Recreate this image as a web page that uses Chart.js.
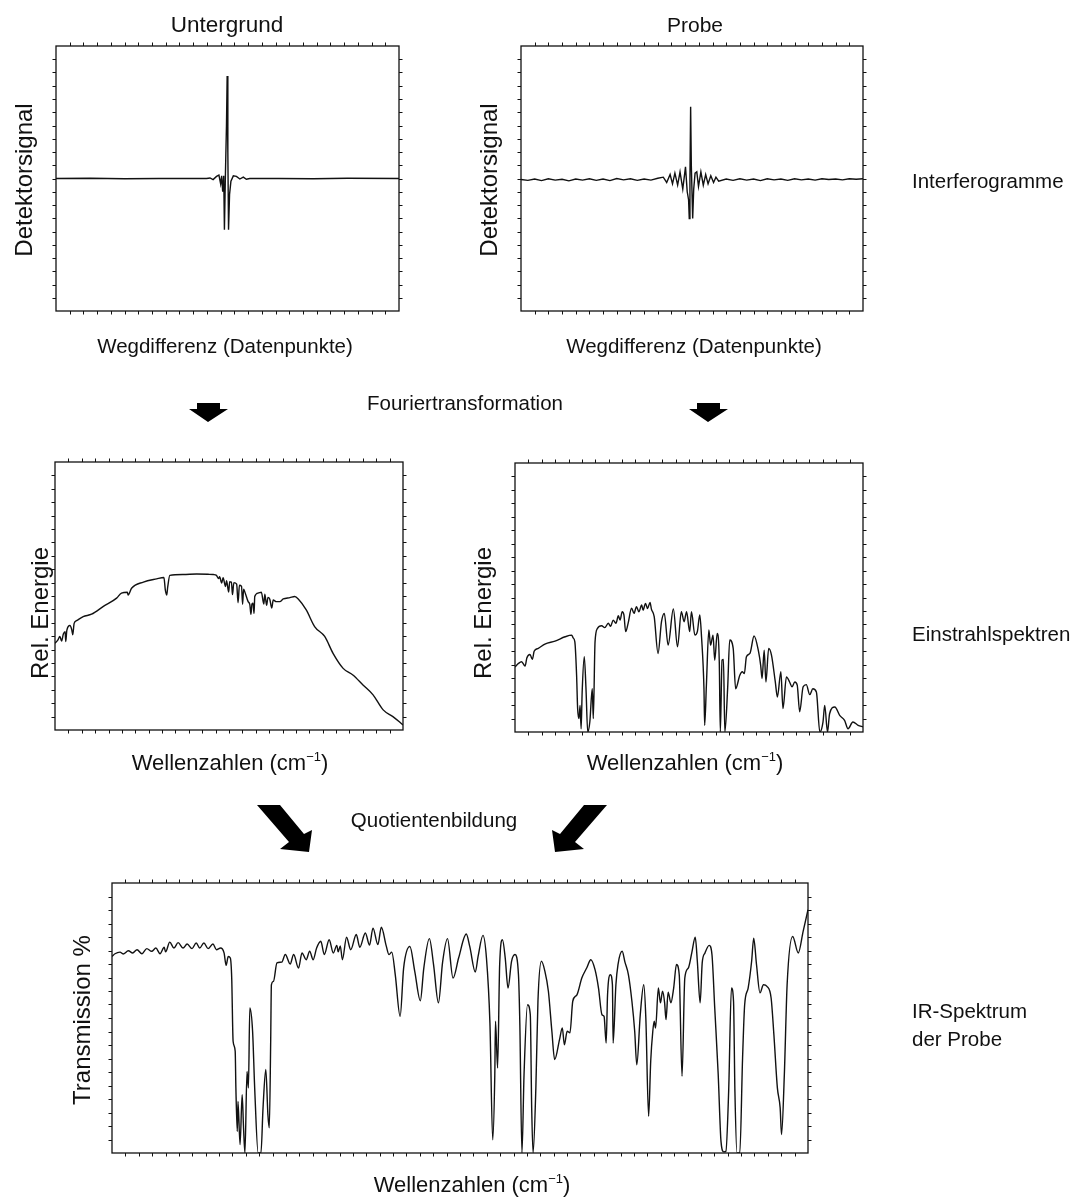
<!DOCTYPE html>
<html>
<head>
<meta charset="utf-8">
<script src="https://cdn.jsdelivr.net/npm/chart.js@4.4.0/dist/chart.umd.min.js"></script>
<style>
  body { margin: 0; background: #fff; }
  #page { position: relative; width: 1073px; height: 1200px; overflow: hidden; background: #fff; }
  #page canvas { position: absolute; }
  #overlay { position: absolute; left: 0; top: 0; pointer-events: none; }
</style>
</head>
<body>
<div id="page">
  <canvas id="bgInterferogram"></canvas>
  <canvas id="sampleInterferogram"></canvas>
  <canvas id="bgSingleBeam"></canvas>
  <canvas id="sampleSingleBeam"></canvas>
  <canvas id="irSpectrum"></canvas>

  <svg id="overlay" width="1073" height="1200" xmlns="http://www.w3.org/2000/svg">
    <g font-family="Liberation Sans, Arial, Helvetica, sans-serif" font-size="20.5" fill="#111">
      <text x="227" y="32" text-anchor="middle" font-size="22.5">Untergrund</text>
      <text x="695" y="32" text-anchor="middle" font-size="21">Probe</text>
      <text transform="translate(32,180) rotate(-90)" text-anchor="middle" font-size="24">Detektorsignal</text>
      <text transform="translate(497,180) rotate(-90)" text-anchor="middle" font-size="24">Detektorsignal</text>
      <text x="225" y="353" text-anchor="middle">Wegdifferenz (Datenpunkte)</text>
      <text x="694" y="353" text-anchor="middle">Wegdifferenz (Datenpunkte)</text>
      <text x="912" y="188">Interferogramme</text>

      <text x="465" y="410" text-anchor="middle">Fouriertransformation</text>

      <text transform="translate(48,613) rotate(-90)" text-anchor="middle" font-size="24">Rel. Energie</text>
      <text transform="translate(491,613) rotate(-90)" text-anchor="middle" font-size="24">Rel. Energie</text>
      <text x="912" y="641">Einstrahlspektren</text>
      <text x="230" y="770" text-anchor="middle" font-size="22">Wellenzahlen (cm<tspan font-size="13" dy="-9">−1</tspan><tspan dy="9">)</tspan></text>
      <text x="685" y="770" text-anchor="middle" font-size="22">Wellenzahlen (cm<tspan font-size="13" dy="-9">−1</tspan><tspan dy="9">)</tspan></text>

      <text x="434" y="827" text-anchor="middle">Quotientenbildung</text>

      <text transform="translate(90,1020) rotate(-90)" text-anchor="middle" font-size="24">Transmission %</text>
      <text x="912" y="1018">IR-Spektrum</text>
      <text x="912" y="1046">der Probe</text>
      <text x="472" y="1192" text-anchor="middle" font-size="22">Wellenzahlen (cm<tspan font-size="13" dy="-9">−1</tspan><tspan dy="9">)</tspan></text>
    </g>
    <g fill="#000">
      <!-- small down arrows -->
      <polygon points="197,403 220,403 220,409 228,409 208,422 189,409 197,409"/>
      <polygon points="697,403 720,403 720,409 728,409 708,422 689,409 697,409"/>
      <!-- big diagonal arrows -->
      <polygon points="257,805 280,805 304,834 312,830 309,852 280,849 289,842"/>
      <polygon points="607,805 584,805 560,834 552,830 555,852 584,849 575,842"/>
    </g>
  </svg>
</div>

<script>
// Interferogram, background (x: path difference, y: detector signal, both in % of frame)
const bgIgX = [0, 10, 20, 30, 40, 43.9, 44.9, 45.8, 46.8, 47.5,
    48.0, 48.3, 48.6, 48.9, 49.1, 49.4, 49.7, 49.9, 50.1, 50.3,
    50.6, 51.0, 51.7, 52.6, 53.6, 54.6, 55.5, 56.5, 65, 75,
    85, 100];
const bgIgY = [50, 50.1, 49.9, 50, 50, 50, 50.2, 49.6, 50.8, 51.3,
    48, 51, 45, 51, 30.7, 52, 70, 88.7, 60, 30.7,
    44, 49, 51, 50.8, 49.8, 50.5, 49.7, 50, 50, 49.9,
    50.1, 50];

// Interferogram, sample
const smpIgX = [0, 2, 4, 6, 8, 10, 12, 14, 16, 18,
    20, 22, 24, 26, 28, 30, 32, 34, 36, 38,
    40, 41.6, 42.6, 43.6, 44.3, 45.0, 45.8, 46.5, 47.3, 48.1,
    48.6, 49.0, 49.2, 49.4, 49.6, 49.8, 50.2, 50.5, 50.9, 51.4,
    51.9, 52.6, 53.3, 54.0, 54.7, 55.5, 56.3, 57.0, 57.8, 60,
    62, 64, 66, 68, 70, 72, 74, 76, 78, 80,
    82, 84, 86, 88, 90, 92, 94, 96, 98, 100];
const smpIgY = [49.6, 49.3, 49.8, 49.2, 49.9, 49.4, 49.7, 49.1, 49.8, 49.4,
    49.9, 49.3, 49.8, 49.2, 50.0, 49.5, 49.9, 49.3, 49.8, 49.4,
    50.1, 50.5, 48.5, 51.5, 48, 52, 47.5, 52.5, 46, 54.4,
    45, 42, 34.9, 50, 77.1, 55, 34.9, 46, 52, 52.5,
    47, 52.5, 47.5, 51.5, 48, 51, 48.5, 50.5, 49, 49.8,
    49.3, 49.9, 49.4, 49.8, 49.2, 49.9, 49.5, 49.8, 49.3, 49.9,
    49.5, 49.8, 49.4, 49.9, 49.6, 49.8, 49.5, 49.9, 49.7, 49.9];

// Single beam spectrum, background (x: wavenumber position, y: rel. energy)
const bgSbX = [0, 0.8, 1.4, 1.9, 2.4, 2.9, 3.1, 3.4, 4.3, 4.8,
    5.1, 5.5, 6.2, 8.1, 10.5, 13.9, 17.7, 19.1, 20.8, 21.0,
    22.0, 25.4, 29.2, 31.3, 31.7, 32.1, 32.4, 33.0, 36.8, 40.7,
    44.0, 45.5, 46.4, 47.0, 47.3, 47.9, 48.3, 49.0, 49.3, 49.9,
    50.2, 50.7, 51.0, 51.4, 52.2, 52.6, 53.0, 53.6, 53.9, 54.2,
    54.5, 55.5, 56.0, 56.3, 56.6, 56.9, 57.2, 57.4, 58.4, 59.3,
    60.0, 60.3, 60.8, 61.2, 61.7, 62.3, 62.7, 63.6, 64.6, 65.6,
    67.5, 68.9, 69.9, 72.2, 74.6, 77.5, 79.9, 82.8, 85.6, 88.5,
    91.4, 94.3, 97.1, 100];
const bgSbY = [32.4, 33.5, 34.9, 33.2, 35.8, 36.7, 33.0, 37.2, 39, 37.5,
    35.5, 39.8, 40.8, 42.3, 43.2, 46.1, 49.2, 51.1, 51.4, 50.4,
    52.9, 55.2, 56.4, 56.9, 52.3, 50.4, 53.5, 57.7, 58.0, 58.2,
    58.1, 58.0, 57.7, 56.5, 57.2, 54.8, 56.8, 53.5, 55.7, 51.5,
    55.3, 55.2, 50.5, 55.0, 54.4, 47.5, 54, 53.6, 46.9, 52.5,
    51.7, 47.9, 46.7, 43.2, 47.0, 47.3, 43.5, 49.8, 51.1, 51.4,
    47.0, 50.7, 46.5, 49.5, 48.9, 45.5, 48.5, 47.9, 47.9, 48.9,
    49.4, 49.8, 48.9, 44.8, 38.6, 34.9, 28.6, 23.0, 20.5, 16.8,
    13.1, 7.5, 5.0, 1.9];

// Single beam spectrum, sample
const smpSbX = [0, 1.0, 1.9, 2.9, 3.4, 4.3, 5.0, 5.5, 6.7, 8.6,
    11.5, 14.4, 16.3, 16.7, 17.2, 17.7, 18.0, 18.4, 18.7, 19.0,
    19.3, 19.9, 20.4, 20.9, 21.5, 22.2, 22.5, 23.0, 23.7, 24.9,
    25.8, 26.8, 27.5, 28.2, 29.0, 29.7, 30.2, 30.8, 31.3, 31.8,
    32.5, 33.5, 34.2, 34.9, 35.6, 36.4, 36.8, 37.5, 38.1, 38.8,
    39.2, 40.0, 41.1, 42.1, 42.9, 44.0, 45.5, 46.7, 47.8, 48.6,
    49.3, 50.2, 50.7, 51.7, 52.4, 53.1, 53.6, 54.3, 54.5, 55.0,
    55.7, 56.2, 56.9, 57.4, 58.1, 58.7, 59.0, 59.5, 59.9, 60.3,
    61.1, 61.7, 62.7, 63.4, 64.6, 65.3, 65.9, 66.5, 67.5, 68.7,
    70.0, 70.6, 71.0, 71.6, 72.1, 72.9, 73.7, 74.8, 75.4, 76.4,
    77.0, 78.0, 78.9, 79.6, 80.4, 81.1, 81.8, 82.8, 83.7, 84.7,
    85.6, 86.6, 87.6, 88.5, 89.0, 89.8, 90.4, 91.9, 93.3, 94.7,
    95.7, 97.1, 98.6, 100];
const smpSbY = [24.2, 25.5, 26.1, 24.5, 27.5, 28.8, 27.0, 30.0, 31.1, 32.7,
    33.8, 35.4, 36.0, 35.0, 33.5, 21.1, 8.7, 5, 9.9, 1.2,
    14.9, 28.0, 16.1, 0, 3.7, 16.1, 5, 33.5, 38.5, 39.5,
    38.8, 40.4, 39.3, 41.6, 40.4, 43.2, 41.6, 44.7, 43.5, 37.3,
    40.4, 46.0, 44.1, 46.6, 44.7, 47.2, 45.3, 47.8, 45.9, 48.2,
    45.7, 42.9, 29.2, 41.0, 44.1, 32.3, 45.7, 31.7, 44.7, 41.0,
    44.7, 37.3, 44.7, 36.0, 37.3, 43.5, 35.4, 16.1, 2.5, 17.4,
    37.9, 32.3, 36.0, 26.7, 36.6, 26.1, 0, 26.7, 27.0, 0,
    16.1, 34.2, 31.1, 16.1, 21.1, 22.4, 21.7, 28.0, 29.2, 35.7,
    29.8, 24.8, 19.9, 30.4, 18.6, 31.1, 28.6, 18.6, 13.0, 22.4,
    8.7, 20.5, 18.6, 16.8, 18.6, 17.4, 7.5, 16.8, 17.6, 13.9,
    16.1, 14.9, 0, 3.7, 9.9, 0, 6.8, 9.3, 6.2, 4.3,
    1.2, 3.7, 2.5, 1.9];

// IR transmission spectrum of the sample
const irX = [0, 0.43, 1.15, 1.6, 2.35, 2.97, 3.6, 4.3, 5.0, 5.7,
    6.3, 6.9, 7.5, 7.7, 8.3, 8.9, 9.5, 10.2, 10.8, 11.5,
    12.1, 12.6, 13.2, 13.8, 14.5, 15.0, 15.6, 16.1, 16.4, 16.7,
    17.0, 17.2, 17.4, 17.7, 17.8, 18.0, 18.1, 18.4, 18.7, 18.9,
    19.1, 19.4, 19.6, 19.8, 20.2, 20.5, 21.0, 21.4, 21.7, 22.1,
    22.4, 22.6, 22.8, 22.9, 23.2, 23.7, 24.4, 24.9, 25.6, 26.1,
    26.8, 27.3, 27.9, 28.4, 28.9, 29.4, 30.0, 30.5, 31.2, 31.8,
    32.3, 32.5, 32.8, 33.1, 33.7, 34.3, 35.1, 35.6, 36.4, 37.0,
    37.5, 38.2, 38.7, 39.4, 39.8, 40.2, 40.7, 41.4, 41.9, 42.8,
    43.5, 44.3, 44.8, 45.6, 46.2, 46.9, 47.5, 48.2, 49.0, 49.8,
    50.9, 51.4, 52.2, 52.6, 53.3, 53.8, 54.3, 54.7, 55.0, 55.1,
    55.4, 55.7, 56.1, 56.5, 56.9, 57.4, 57.9, 58.4, 58.6, 58.9,
    59.2, 59.7, 60.1, 60.3, 60.5, 60.9, 61.2, 61.7, 62.2, 62.7,
    63.2, 63.6, 64.3, 64.7, 65.0, 65.4, 65.8, 66.2, 66.8, 67.5,
    68.2, 68.8, 69.4, 69.9, 70.4, 70.7, 71.0, 71.2, 71.6, 71.9,
    72.0, 72.4, 72.7, 73.3, 73.7, 74.2, 74.7, 75.1, 75.4, 75.9,
    76.4, 76.7, 77.1, 77.4, 77.7, 77.9, 78.1, 78.5, 78.8, 79.1,
    79.4, 79.6, 79.9, 80.3, 80.7, 81.1, 81.5, 81.9, 82.3, 82.8,
    83.3, 83.8, 84.1, 84.5, 84.8, 85.2, 85.8, 86.2, 86.6, 87.1,
    87.5, 87.9, 88.2, 88.6, 89.0, 89.3, 89.5, 89.8, 90.2, 90.6,
    90.9, 91.4, 91.9, 92.2, 92.6, 93.1, 93.6, 94.1, 94.7, 95.1,
    95.6, 96.0, 96.2, 96.6, 97.0, 97.8, 98.6, 99.3, 100];
const irY = [72.8, 73.8, 74.4, 73.7, 74.9, 74.1, 75.3, 73.8, 75.7, 74.7,
    75.9, 73.8, 76.2, 74.5, 78.1, 75.9, 77.9, 75.9, 77.4, 75.7,
    77.8, 75.9, 77.8, 75.7, 77.4, 75.3, 75.9, 74.1, 69.5, 72.8,
    72.2, 64.8, 41.4, 37.7, 24.1, 8.0, 19.1, 3.1, 21.6, 9.3,
    0, 30.2, 24.1, 53.7, 45.1, 24.1, 0, 0, 16.7, 30.9,
    14.2, 9.3, 41.4, 62.3, 63.6, 70.4, 70.7, 73.5, 70.0, 73.5,
    68.5, 74.1, 71.6, 74.7, 71.6, 75.9, 78.4, 73.5, 79.0, 74.1,
    76.9, 74.5, 76.7, 71.6, 79.9, 75.3, 80.9, 76.2, 81.5, 77.0,
    83.3, 77.2, 83.6, 76.7, 73.5, 74.4, 66.0, 50.6, 68.5, 76.5,
    67.3, 56.4, 68.5, 79.4, 69.8, 55.6, 70.7, 79.4, 64.8, 72.2,
    81.1, 76.5, 67.0, 72.8, 80.6, 72.2, 48.1, 4.9, 29.0, 48.8,
    31.5, 69.8, 79.0, 72.2, 61.1, 70.9, 73.5, 66.0, 47.5, 0,
    29.0, 54.9, 51.2, 16.7, 0, 24.1, 56.2, 71.0, 67.3, 59.9,
    45.1, 34.6, 42.0, 46.3, 40.1, 45.1, 44.5, 56.2, 58.6, 64.8,
    68.5, 71.6, 67.9, 61.1, 51.2, 50.6, 40.7, 58.6, 66.0, 62.3,
    40.7, 62.3, 69.8, 74.7, 70.7, 66.0, 56.2, 45.1, 32.7, 51.2,
    62.3, 50.0, 13.6, 34.0, 45.1, 48.8, 46.3, 61.1, 55.6, 59.9,
    55.6, 49.4, 59.6, 55.6, 61.1, 69.8, 66.0, 28.4, 64.8, 68.5,
    74.1, 79.9, 71.0, 55.6, 70.4, 74.1, 76.9, 73.5, 53.7, 29.0,
    4.3, 0.4, 0.6, 22.8, 61.1, 56.2, 22.8, 0, 0, 35.2,
    54.9, 61.1, 71.0, 79.6, 69.8, 59.3, 62.3, 61.7, 57.4, 43.8,
    24.1, 16.7, 6.8, 29.0, 62.3, 80.2, 74.1, 82.1, 90.1];

const PAD = 6;
const LINE = '#111';

/**
 * Frame with short outward tick marks on all four sides
 */
const framePlugin = {
    id: 'frame',
    afterDatasetsDraw(chart, args, opts) {
        const ctx = chart.ctx;
        const a = chart.chartArea;
        const x = chart.scales.x;
        const y = chart.scales.y;
        const len = 3.5;

        ctx.save();
        ctx.strokeStyle = LINE;
        ctx.lineWidth = 1.3;
        ctx.strokeRect(a.left, a.top, a.right - a.left, a.bottom - a.top);

        ctx.lineWidth = 1;
        ctx.beginPath();
        for (let i = 1; i < opts.nx; i++) {
            const px = Math.round(x.getPixelForValue(x.min + i * (x.max - x.min) / opts.nx)) + 0.5;
            ctx.moveTo(px, a.top); ctx.lineTo(px, a.top - len);
            ctx.moveTo(px, a.bottom); ctx.lineTo(px, a.bottom + len);
        }
        for (let i = 1; i < opts.ny; i++) {
            const py = Math.round(y.getPixelForValue(y.min + i * (y.max - y.min) / opts.ny)) + 0.5;
            ctx.moveTo(a.left, py); ctx.lineTo(a.left - len, py);
            ctx.moveTo(a.right, py); ctx.lineTo(a.right + len, py);
        }
        ctx.stroke();
        ctx.restore();
    }
};

/**
 * Build one framed line chart whose plot area sits exactly on the given box
 */
function makeChart(id, xs, ys, box, smooth) {
    const canvas = document.getElementById(id);
    canvas.width = box.w + 2 * PAD;
    canvas.height = box.h + 2 * PAD;
    canvas.style.left = (box.left - PAD) + 'px';
    canvas.style.top = (box.top - PAD) + 'px';

    const points = xs.map((v, i) => ({ x: v, y: ys[i] }));

    return new Chart(canvas.getContext('2d'), {
        type: 'line',
        data: {
            datasets: [{
                data: points,
                borderColor: LINE,
                borderWidth: 1.4,
                pointRadius: 0,
                fill: false,
                tension: smooth ? 0.4 : 0,
                cubicInterpolationMode: smooth ? 'monotone' : 'default'
            }]
        },
        options: {
            responsive: false,
            animation: false,
            events: [],
            layout: { padding: PAD },
            scales: {
                x: { type: 'linear', min: 0, max: 100, display: false },
                y: { type: 'linear', min: 0, max: 100, display: false }
            },
            plugins: {
                legend: { display: false },
                tooltip: { enabled: false },
                frame: { nx: Math.round(box.w / 13.5), ny: 20 }
            }
        },
        plugins: [framePlugin]
    });
}

document.addEventListener('DOMContentLoaded', function() {
    makeChart('bgInterferogram', bgIgX, bgIgY, { left: 56, top: 46, w: 343, h: 265 }, false);
    makeChart('sampleInterferogram', smpIgX, smpIgY, { left: 521, top: 46, w: 342, h: 265 }, false);
    makeChart('bgSingleBeam', bgSbX, bgSbY, { left: 55, top: 462, w: 348, h: 268 }, true);
    makeChart('sampleSingleBeam', smpSbX, smpSbY, { left: 515, top: 463, w: 348, h: 269 }, true);
    makeChart('irSpectrum', irX, irY, { left: 112, top: 883, w: 696, h: 270 }, true);
});
</script>
</body>
</html>
